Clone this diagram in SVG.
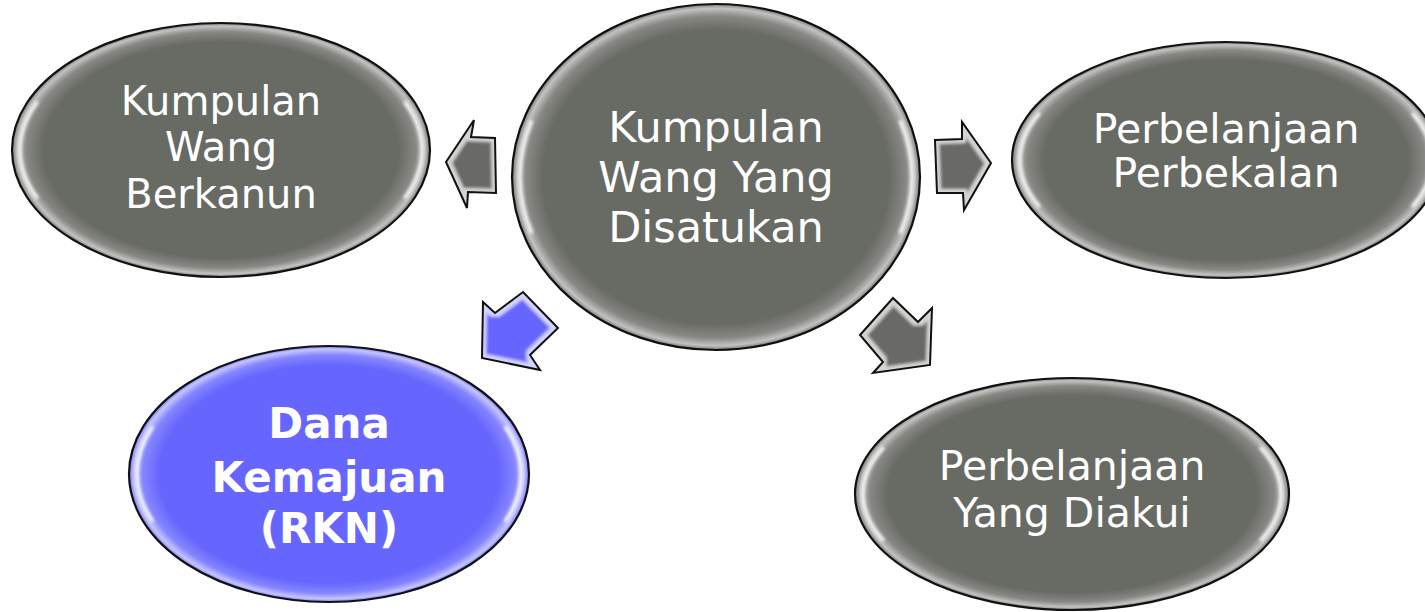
<svg xmlns="http://www.w3.org/2000/svg" width="1425" height="612" viewBox="0 0 1425 612">
  <defs>
    <radialGradient id="gGray" cx="0.5" cy="0.5" r="0.5">
      <stop offset="0" stop-color="#686a64"/>
      <stop offset="0.85" stop-color="#686a64"/>
      <stop offset="0.93" stop-color="#878883"/>
      <stop offset="0.975" stop-color="#c2c3c0"/>
      <stop offset="1" stop-color="#7a7b77"/>
    </radialGradient>
    <radialGradient id="gBlue" cx="0.5" cy="0.5" r="0.5">
      <stop offset="0" stop-color="#6666ff"/>
      <stop offset="0.85" stop-color="#6666ff"/>
      <stop offset="0.93" stop-color="#8585ff"/>
      <stop offset="0.975" stop-color="#c4c4ff"/>
      <stop offset="1" stop-color="#7a7aff"/>
    </radialGradient>
    <filter id="soft" x="-10%" y="-10%" width="120%" height="120%">
      <feGaussianBlur stdDeviation="1.4"/>
    </filter>
    <filter id="bev" x="-10%" y="-10%" width="120%" height="120%">
      <feMorphology in="SourceAlpha" operator="erode" radius="4" result="er"/>
      <feGaussianBlur in="er" stdDeviation="1.8" result="b"/>
      <feComposite in="SourceAlpha" in2="b" operator="out" result="rim"/>
      <feFlood flood-color="#ffffff" flood-opacity="0.6"/>
      <feComposite in2="rim" operator="in" result="rimc"/>
      <feMerge><feMergeNode in="SourceGraphic"/><feMergeNode in="rimc"/></feMerge>
    </filter>
  </defs>
  <style>
    .rim { fill: none; stroke: #111; stroke-width: 2.2; }
    .hl { fill: none; stroke: #ffffff; stroke-width: 3.5; stroke-linecap: round; stroke-dasharray: 36 144; stroke-dashoffset: 18; opacity: 0.9; filter: url(#soft); }
    .t { font-family: "DejaVu Sans", "Liberation Sans", sans-serif; fill: #ffffff; text-anchor: middle; }
    .tb { font-family: "DejaVu Sans", "Liberation Sans", sans-serif; font-weight: bold; fill: #ffffff; text-anchor: middle; }
    .arw { filter: url(#bev); }
    .arwG { fill: #696b65; }
    .arwB { fill: #6666ff; }
    .arwS { fill: none; stroke: #111; stroke-width: 2; stroke-linejoin: miter; }
  </style>
  <rect width="1425" height="612" fill="#ffffff"/>

  <g id="connectors">
    <g id="arrow-left">
      <polygon class="arw arwG" points="446,162 474,120 471,137 495,138 496,193 468,192 467,208"/>
      <polygon class="arwS" points="446,162 474,120 471,137 495,138 496,193 468,192 467,208"/>
    </g>
    <g id="arrow-right">
      <polygon class="arw arwG" points="935,140 962,139 962,122 991,163 964,210 963,193 937,193"/>
      <polygon class="arwS" points="935,140 962,139 962,122 991,163 964,210 963,193 937,193"/>
    </g>
    <g id="arrow-downleft">
      <polygon class="arw arwB" points="483,302 495,313 523,292 558,328 530,355 540,370 482,358"/>
      <polygon class="arwS" points="483,302 495,313 523,292 558,328 530,355 540,370 482,358"/>
    </g>
    <g id="arrow-downright">
      <polygon class="arw arwG" points="860,335 893,298 918,322 932,308 930,365 873,373 883,362"/>
      <polygon class="arwS" points="860,335 893,298 918,322 932,308 930,365 873,373 883,362"/>
    </g>
  </g>

  <g id="node-center" transform="translate(716,177)">
    <ellipse rx="204" ry="173" fill="url(#gGray)"/>
    <ellipse class="hl" rx="196" ry="165" pathLength="360"/>
    <ellipse class="rim" rx="204" ry="173"/>
    <text class="t" font-size="43" x="0" y="-35">Kumpulan</text>
    <text class="t" font-size="43" x="0" y="15">Wang Yang</text>
    <text class="t" font-size="43" x="0" y="65">Disatukan</text>
  </g>

  <g id="node-left" transform="translate(221,150)">
    <ellipse rx="209" ry="127" fill="url(#gGray)"/>
    <ellipse class="hl" rx="201" ry="119" pathLength="360"/>
    <ellipse class="rim" rx="209" ry="127"/>
    <text class="t" font-size="40" x="0" y="-35">Kumpulan</text>
    <text class="t" font-size="40" x="0" y="11">Wang</text>
    <text class="t" font-size="40" x="0" y="58">Berkanun</text>
  </g>

  <g id="node-right" transform="translate(1226,160)">
    <ellipse rx="214" ry="118" fill="url(#gGray)"/>
    <ellipse class="hl" rx="206" ry="110" pathLength="360"/>
    <ellipse class="rim" rx="214" ry="118"/>
    <text class="t" font-size="41" x="0" y="-17">Perbelanjaan</text>
    <text class="t" font-size="41" x="0" y="27">Perbekalan</text>
  </g>

  <g id="node-rkn" transform="translate(329,474)">
    <ellipse rx="200" ry="128" fill="url(#gBlue)"/>
    <ellipse class="hl" rx="192" ry="120" pathLength="360"/>
    <ellipse class="rim" rx="200" ry="128"/>
    <text class="tb" font-size="42" x="0" y="-36">Dana</text>
    <text class="tb" font-size="42" x="0" y="18">Kemajuan</text>
    <text class="tb" font-size="42" x="0" y="69">(RKN)</text>
  </g>

  <g id="node-diakui" transform="translate(1072,494)">
    <ellipse rx="217" ry="116" fill="url(#gGray)"/>
    <ellipse class="hl" rx="209" ry="108" pathLength="360"/>
    <ellipse class="rim" rx="217" ry="116"/>
    <text class="t" font-size="41" x="0" y="-14">Perbelanjaan</text>
    <text class="t" font-size="41" x="0" y="33">Yang Diakui</text>
  </g>
</svg>
